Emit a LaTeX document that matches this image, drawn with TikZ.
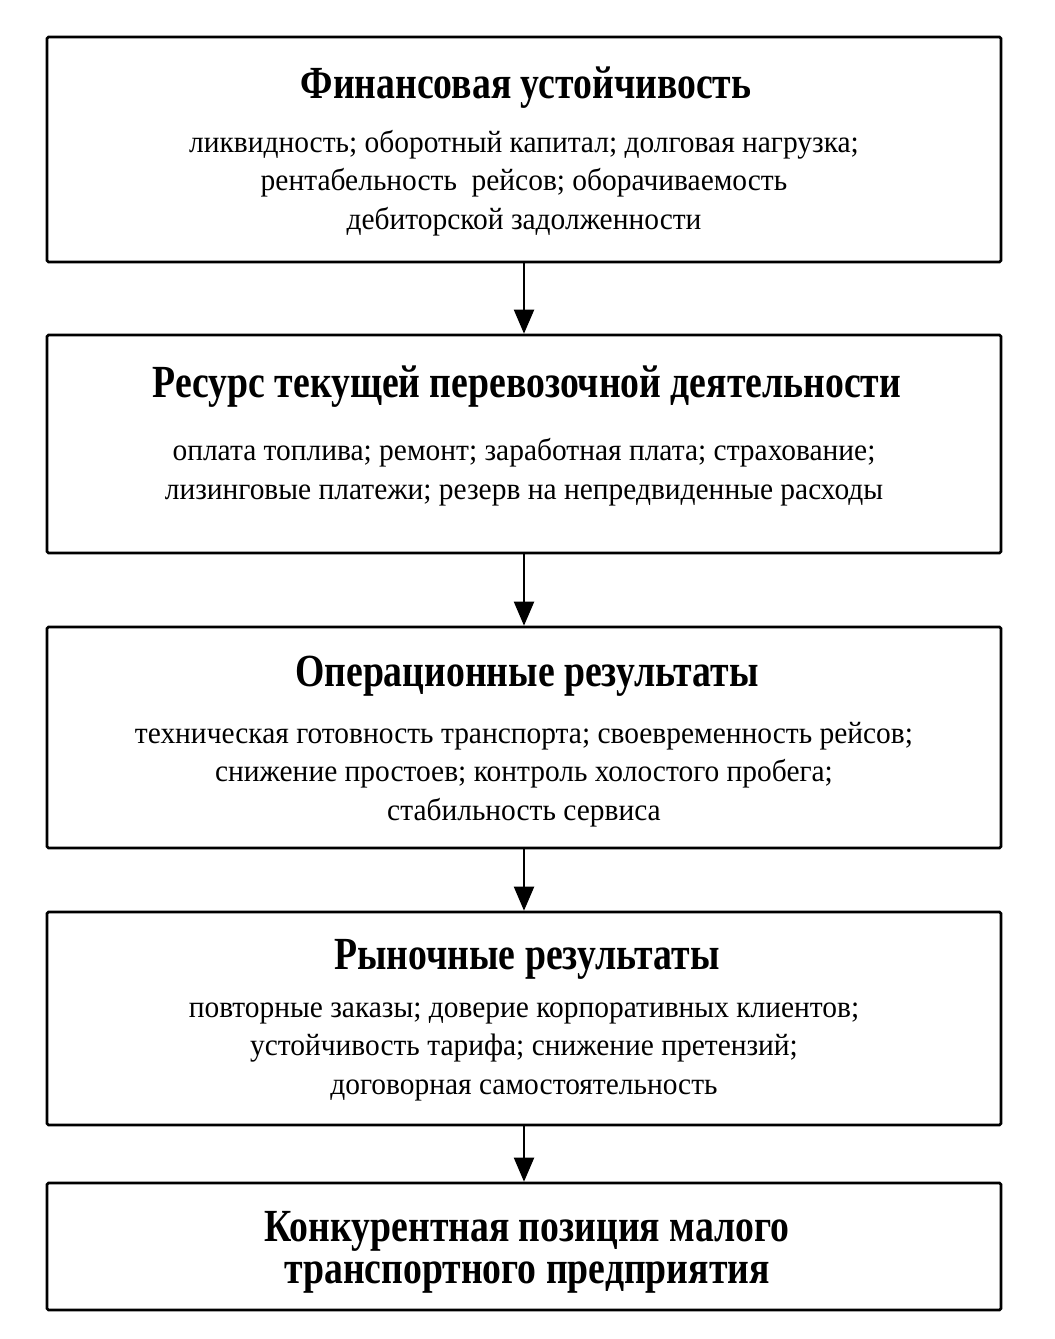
\documentclass[tikz,border=0pt]{standalone}
\usepackage{fontspec}
\setmainfont{Liberation Serif}
\newfontfamily\titlefont[FakeStretch=0.82]{Liberation Serif Bold}
\newfontfamily\bodyfont[FakeStretch=0.95]{Liberation Serif}
\usetikzlibrary{arrows.meta}
\begin{document}
\begin{tikzpicture}[x=1pt,y=-1pt,
  box/.style={draw, line width=2.6pt, rounded corners=1.5pt, minimum width=954pt, inner sep=0pt},
  ttl/.style={font=\titlefont\fontsize{46}{42}\selectfont, align=center, inner sep=0pt, anchor=base},
  body/.style={font=\bodyfont\fontsize{31}{38.5}\selectfont, align=center, inner sep=0pt, anchor=base},
  conn/.style={line width=2pt, -{Triangle[length=24pt,width=20pt]}}]
\useasboundingbox (0,0) rectangle (1055,1339);
\node[box, minimum height=225pt] (b1) at (524,149.5) {};
\node[box, minimum height=218pt] (b2) at (524,444) {};
\node[box, minimum height=221pt] (b3) at (524,737.5) {};
\node[box, minimum height=213pt] (b4) at (524,1018.5) {};
\node[box, minimum height=127pt] (b5) at (524,1246.5) {};
\node[ttl] (t1) at (526,98) {Финансовая устойчивость};
\node[body] (d1) at (524,229) {ликвидность; оборотный капитал; долговая нагрузка;\\рентабельность\ \ рейсов; оборачиваемость\\дебиторской задолженности};
\node[ttl] (t2) at (527,397) {Ресурс текущей перевозочной деятельности};
\node[body] (d2) at (524,499) {оплата топлива; ремонт; заработная плата; страхование;\\лизинговые платежи; резерв на непредвиденные расходы};
\node[ttl] (t3) at (527,686) {Операционные результаты};
\node[body] (d3) at (524,820) {техническая готовность транспорта; своевременность рейсов;\\снижение простоев; контроль холостого пробега;\\стабильность сервиса};
\node[ttl] (t4) at (527,969) {Рыночные результаты};
\node[body] (d4) at (524,1094) {повторные заказы; доверие корпоративных клиентов;\\устойчивость тарифа; снижение претензий;\\договорная самостоятельность};
\node[ttl] (t5) at (527,1283) {Конкурентная позиция малого\\транспортного предприятия};
\foreach \a/\b in {b1/b2,b2/b3,b3/b4,b4/b5}
  \draw[conn] (\a.south) -- (\b.north);
\end{tikzpicture}
\end{document}
